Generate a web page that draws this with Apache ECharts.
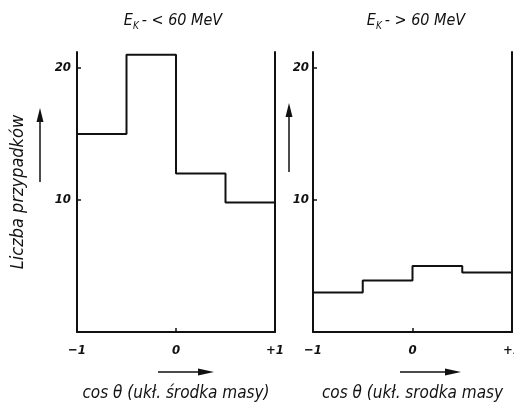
<!DOCTYPE html>
<html><head><meta charset="utf-8">
<script src="https://cdn.jsdelivr.net/npm/echarts@6/dist/echarts.min.js"></script>
<style>html,body{margin:0;padding:0;background:#fff}#c{width:514px;height:404px}</style>
</head><body><div id="c"></div>
<script>
// Data
const binEdges = [-1, -0.5, 0, 0.5, 1];
const countsLow = [15, 21, 12, 9.8];     // E_K < 60 MeV
const countsHigh = [3.0, 3.9, 5.0, 4.5]; // E_K > 60 MeV
const yTicks = [10, 20];
const xTickLabels = {'-1': '\u22121', '0': '0', '1': '+1'};
const titles = ['- < 60 MeV', '- > 60 MeV'];
const yName = 'Liczba przypadków';
const xNames = ['cos \u03b8 (ukł. środka masy)', 'cos \u03b8 (ukł. srodka masy'];

const FONT = '"Liberation Sans Narrow","DejaVu Sans Condensed",sans-serif';
const stepData = counts => binEdges.map((e, i) => [e, counts[Math.min(i, counts.length - 1)]]);

const chart = echarts.init(document.getElementById('c'), null, {renderer: 'canvas'});
const grids = [
  {left: 77, right: 239, top: 52, bottom: 72, outerBoundsMode: 'none', containLabel: false},
  {left: 313, right: 2, top: 52, bottom: 72, outerBoundsMode: 'none', containLabel: false}
];
const lineStyle = {color: '#111', width: 2};
const mkX = (gi) => ({
  type: 'value', gridIndex: gi, min: -1, max: 1, interval: 1,
  axisLine: {onZero: false, lineStyle: lineStyle},
  axisTick: {inside: true, length: 4, lineStyle: {color: '#111', width: 1.5}},
  splitLine: {show: false},
  axisLabel: {formatter: v => xTickLabels[String(v)], color: '#111', fontFamily: FONT,
    fontStyle: 'italic', fontWeight: 'bold', fontSize: 13, margin: 12},
  name: xNames[gi], nameLocation: 'middle', nameGap: 53,
  nameTextStyle: {color: '#111', fontFamily: FONT, fontStyle: 'italic', fontSize: 17}
});
const mkY = (gi) => ({
  type: 'value', gridIndex: gi, min: 0, max: 21.2, interval: 10,
  axisLine: {show: true, onZero: false, lineStyle: lineStyle},
  axisTick: {inside: true, length: 4, lineStyle: {color: '#111', width: 1.5}},
  splitLine: {show: false},
  axisLabel: {formatter: v => (yTicks.indexOf(v) >= 0 ? String(v) : ''), color: '#111',
    fontFamily: FONT, fontStyle: 'italic', fontWeight: 'bold', fontSize: 13,
    margin: gi === 0 ? 6 : 4, showMaxLabel: false},
  name: gi === 0 ? yName : '', nameLocation: 'middle', nameGap: 50, nameRotate: 90,
  nameTextStyle: {color: '#111', fontFamily: FONT, fontStyle: 'italic', fontSize: 18}
});
const mkYR = (gi) => ({
  type: 'value', gridIndex: gi, position: 'right', min: 0, max: 21.2,
  axisLine: {show: true, onZero: false, lineStyle: lineStyle}, axisTick: {show: false},
  axisLabel: {show: false}, splitLine: {show: false}
});

const arrowV = (x, y1, y2) => ([
  {type: 'line', shape: {x1: x, y1: y1, x2: x, y2: y2 + 12}, style: {stroke: '#111', lineWidth: 1.5}},
  {type: 'polygon', shape: {points: [[x - 3.5, y2 + 14], [x + 3.5, y2 + 14], [x, y2]]}, style: {fill: '#111'}}
]);
const arrowH = (x1, x2, y) => ([
  {type: 'line', shape: {x1: x1, y1: y, x2: x2 - 14, y2: y}, style: {stroke: '#111', lineWidth: 1.5}},
  {type: 'polygon', shape: {points: [[x2 - 16, y - 3.5], [x2 - 16, y + 3.5], [x2, y]]}, style: {fill: '#111'}}
]);

const titleRich = {
  e: {fontSize: 16, fontFamily: FONT, fontStyle: 'italic', fontWeight: 'normal', color: '#111'},
  k: {fontSize: 10, fontFamily: FONT, fontStyle: 'italic', fontWeight: 'normal', color: '#111', padding: [10, 3, 0, 0]},
  r: {fontSize: 16, fontFamily: FONT, fontStyle: 'italic', fontWeight: 'normal', color: '#111'}
};

chart.setOption({
  animation: false,
  backgroundColor: '#fff',
  title: titles.map((t, i) => ({
    text: '{e|E}{k|K}{r|' + t + '}', left: i === 0 ? 168 : 411, top: 6, textAlign: 'center',
    textStyle: {fontWeight: 'normal', rich: titleRich}
  })),
  grid: grids,
  xAxis: [mkX(0), mkX(1)],
  yAxis: [mkY(0), mkY(1), mkYR(0), mkYR(1)],
  series: [
    {type: 'line', xAxisIndex: 0, yAxisIndex: 0, step: 'end', symbol: 'none',
     lineStyle: {color: '#111', width: 2}, data: stepData(countsLow)},
    {type: 'line', xAxisIndex: 1, yAxisIndex: 1, step: 'end', symbol: 'none',
     lineStyle: {color: '#111', width: 2}, data: stepData(countsHigh)}
  ],
  graphic: [].concat(arrowV(40, 182, 108), arrowV(289, 172, 103),
                     arrowH(158, 214, 372), arrowH(400, 461, 372))
});
</script></body></html>
